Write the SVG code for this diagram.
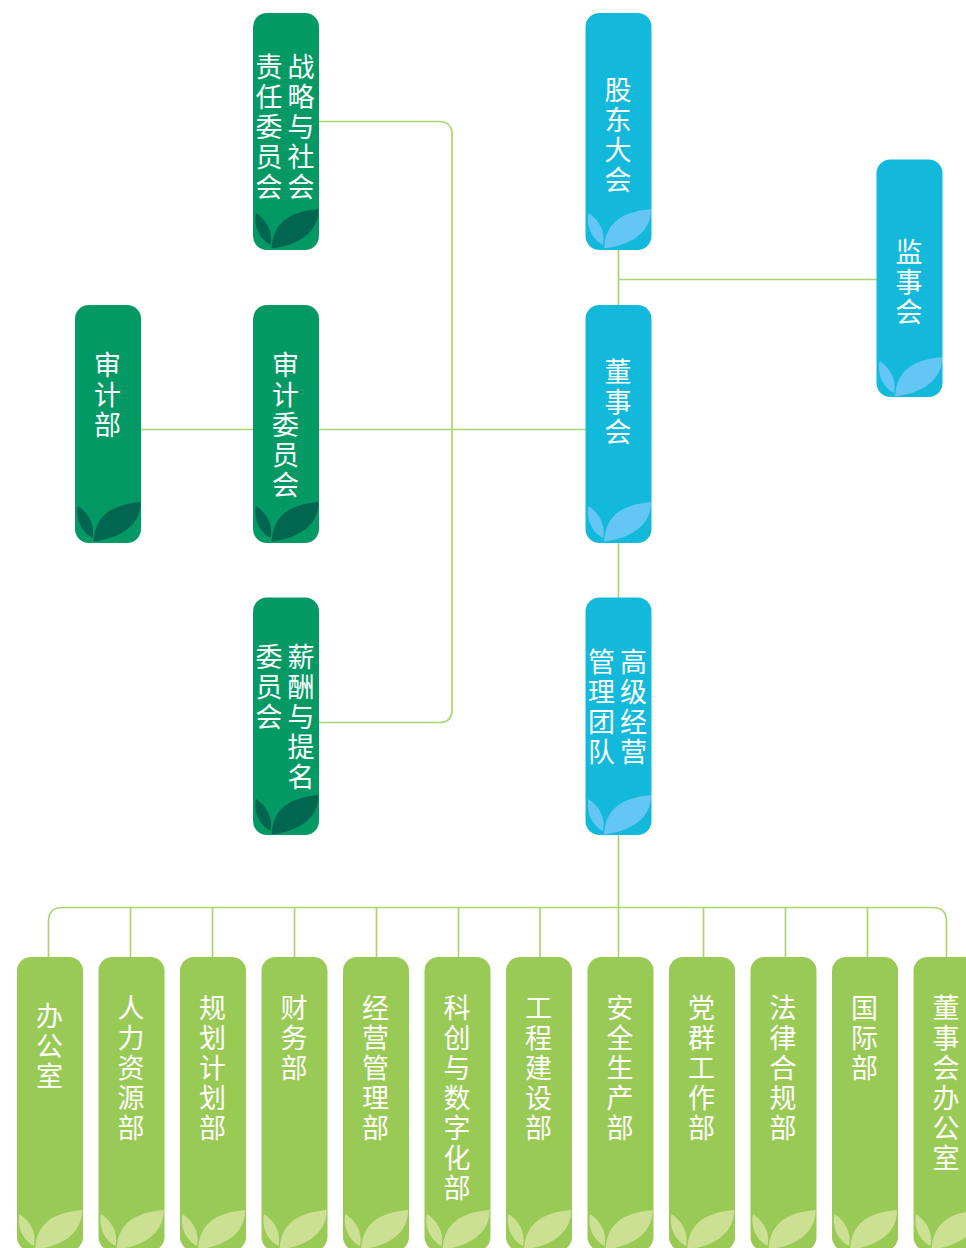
<svg xmlns="http://www.w3.org/2000/svg" width="966" height="1248" viewBox="0 0 966 1248">
<style>
text{font-family:"Noto Sans CJK SC","Noto Sans",sans-serif;font-size:27px;font-weight:400;fill:#fff;writing-mode:vertical-rl;letter-spacing:3px}
.c{fill:none;stroke:#a9d56f;stroke-width:1.7}
.dk rect{fill:#039965}.dk use{fill:#01664f}
.bl rect{fill:#12b9db}.bl use{fill:#63c6f5}
.lt rect{fill:#9aca56}.lt use{fill:#cbe092}
</style>
<defs>
<g id="leaves">
<path d="M18.500-1.500C20-26 34-38 65.500-41C66-24 54-6 18.500-1.500Z"/>
<path d="M3-37C12-31 20.500-20 17.500-5C7.500-10 0-23 3-37Z"/>
</g>
</defs>
<g id="connectors" class="c">
<path d="M319 121.500H439Q452 121.500 452 134.500V709.500Q452 722.500 439 722.500H319"/>
<path d="M141 429.500H586"/>
<path d="M618.500 250V305M618.500 279.500H877M618.500 543V598M618.500 835V957"/>
<path d="M48.500 957V921.500Q48.500 907.500 62.500 907.500H932.500Q946.500 907.500 946.500 921.500V957"/>
<path d="M130.500 907.500V957M212.500 907.500V957M294.500 907.500V957M376.500 907.500V957M458.500 907.500V957M540 907.500V957M703.500 907.500V957M785.500 907.500V957M867.500 907.500V957"/>
</g>
<g id="n-strategy" class="dk"><rect x="253" y="13" width="66" height="237" rx="14"/><use href="#leaves" x="253" y="250"/><text x="301" y="53.500">战略与社会</text><text x="269" y="53.500">责任委员会</text></g>
<g id="n-shareholders" class="bl"><rect x="585.500" y="13" width="66" height="237" rx="14"/><use href="#leaves" x="585.500" y="250"/><text x="618" y="76">股东大会</text></g>
<g id="n-supervisors" class="bl"><rect x="876.500" y="159.500" width="66" height="237.500" rx="14"/><use href="#leaves" x="876.500" y="398"/><text x="909" y="238.500">监事会</text></g>
<g id="n-audit-dept" class="dk"><rect x="75" y="305" width="66" height="238" rx="14"/><use href="#leaves" x="75" y="543"/><text x="107.500" y="351">审计部</text></g>
<g id="n-audit-committee" class="dk"><rect x="253" y="305" width="66" height="238" rx="14"/><use href="#leaves" x="253" y="543"/><text x="285.500" y="351">审计委员会</text></g>
<g id="n-board" class="bl"><rect x="585.500" y="305" width="66" height="238" rx="14"/><use href="#leaves" x="585.500" y="543"/><text x="618" y="358.500">董事会</text></g>
<g id="n-salary" class="dk"><rect x="253" y="597.500" width="66" height="237.500" rx="14"/><use href="#leaves" x="253" y="836"/><text x="301" y="643">薪酬与提名</text><text x="269" y="643">委员会</text></g>
<g id="n-management" class="bl"><rect x="585.500" y="597.500" width="66" height="237.500" rx="14"/><use href="#leaves" x="585.500" y="836"/><text x="633.500" y="648">高级经营</text><text x="601.500" y="648">管理团队</text></g>
<g id="n-d1" class="lt"><rect x="17" y="957" width="66" height="294" rx="14"/><use href="#leaves" x="16.500" y="1251"/><text x="49.500" y="1002">办公室</text></g>
<g id="n-d2" class="lt"><rect x="98.500" y="957" width="66" height="294" rx="14"/><use href="#leaves" x="98" y="1251"/><text x="131" y="994">人力资源部</text></g>
<g id="n-d3" class="lt"><rect x="180" y="957" width="66" height="294" rx="14"/><use href="#leaves" x="179.500" y="1251"/><text x="212.500" y="994">规划计划部</text></g>
<g id="n-d4" class="lt"><rect x="261.500" y="957" width="66" height="294" rx="14"/><use href="#leaves" x="261" y="1251"/><text x="294" y="994">财务部</text></g>
<g id="n-d5" class="lt"><rect x="343" y="957" width="66" height="294" rx="14"/><use href="#leaves" x="342.500" y="1251"/><text x="375.500" y="994">经营管理部</text></g>
<g id="n-d6" class="lt"><rect x="424.500" y="957" width="66" height="294" rx="14"/><use href="#leaves" x="424" y="1251"/><text x="457" y="994">科创与数字化部</text></g>
<g id="n-d7" class="lt"><rect x="506" y="957" width="66" height="294" rx="14"/><use href="#leaves" x="505.500" y="1251"/><text x="538.500" y="994">工程建设部</text></g>
<g id="n-d8" class="lt"><rect x="587.500" y="957" width="66" height="294" rx="14"/><use href="#leaves" x="587" y="1251"/><text x="620" y="994">安全生产部</text></g>
<g id="n-d9" class="lt"><rect x="669" y="957" width="66" height="294" rx="14"/><use href="#leaves" x="668.500" y="1251"/><text x="701.500" y="994">党群工作部</text></g>
<g id="n-d10" class="lt"><rect x="750.500" y="957" width="66" height="294" rx="14"/><use href="#leaves" x="750" y="1251"/><text x="783" y="994">法律合规部</text></g>
<g id="n-d11" class="lt"><rect x="832" y="957" width="66" height="294" rx="14"/><use href="#leaves" x="831.500" y="1251"/><text x="864.500" y="994">国际部</text></g>
<g id="n-d12" class="lt"><rect x="913.500" y="957" width="66" height="294" rx="14"/><use href="#leaves" x="913" y="1251"/><text x="946" y="994">董事会办公室</text></g>
</svg>
